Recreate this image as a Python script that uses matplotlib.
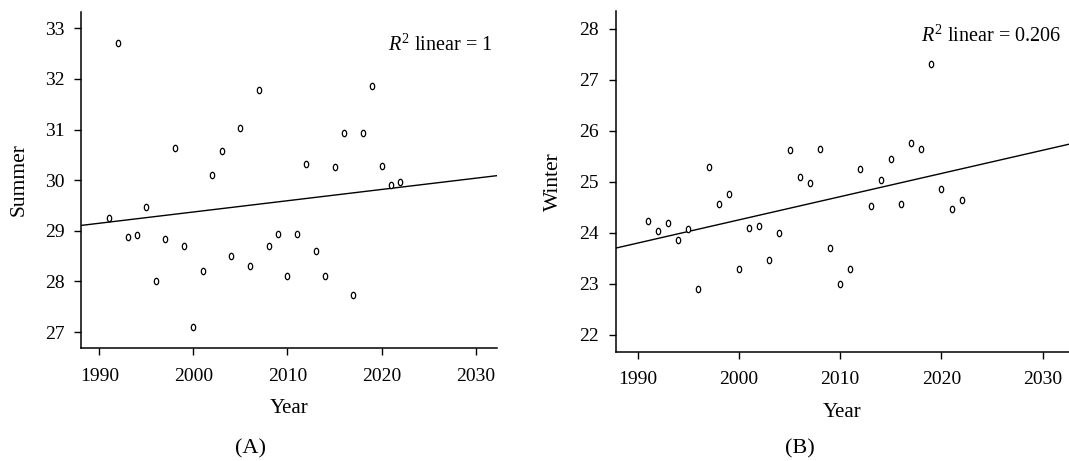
import matplotlib
matplotlib.use('Agg')
import matplotlib.pyplot as plt
from matplotlib.path import Path
from matplotlib.markers import MarkerStyle
from matplotlib.transforms import Affine2D

# values
years = [1991, 1992, 1993, 1994, 1995, 1996, 1997, 1998, 1999, 2000, 2001,
         2002, 2003, 2004, 2005, 2006, 2007, 2008, 2009, 2010, 2011, 2012,
         2013, 2014, 2015, 2016, 2017, 2018, 2019, 2020, 2021, 2022]
summer = [29.25, 32.72, 28.87, 28.91, 29.47, 28.01, 28.83, 30.63, 28.71, 27.11,
          28.20, 30.10, 30.57, 28.51, 31.03, 28.30, 31.79, 28.70, 28.94, 28.11,
          28.94, 30.33, 28.60, 28.11, 30.27, 30.94, 27.74, 30.94, 31.86, 30.29,
          29.91, 29.97]
winter = [24.23, 24.03, 24.20, 23.86, 24.07, 22.90, 25.30, 24.56, 24.76, 23.30,
          24.09, 24.13, 23.46, 24.00, 25.63, 25.09, 24.97, 25.65, 23.70, 23.00,
          23.30, 25.25, 24.52, 25.03, 25.45, 24.56, 25.76, 25.65, 27.32, 24.86,
          24.46, 24.65]

# fitted line values at 1990 and 2030
summer_fit = [29.15, 30.04]
winter_fit = [23.80, 25.62]
fit_years = [1990, 2030]

x_ticks = [1990, 2000, 2010, 2020, 2030]
summer_ticks = [27, 28, 29, 30, 31, 32, 33]
winter_ticks = [22, 23, 24, 25, 26, 27, 28]

plt.rcParams['font.family'] = ['Liberation Serif', 'DejaVu Serif']
plt.rcParams['mathtext.fontset'] = 'custom'
plt.rcParams['mathtext.rm'] = 'Liberation Serif'
plt.rcParams['mathtext.it'] = 'Liberation Serif:italic'
plt.rcParams['font.size'] = 14

# slightly tall open circle, like the "o" glyph in the original
ellipse = Path.unit_circle().transformed(Affine2D().scale(0.68, 1.0))
marker = MarkerStyle(ellipse)

fig = plt.figure(figsize=(10.69, 4.61), dpi=100)
ax1 = fig.add_axes([0.0758, 0.2445, 0.3894, 0.7302])
ax2 = fig.add_axes([0.5760, 0.2371, 0.4240, 0.7390])


def scatter_panel(ax, values, fit, ticks, ylim, xlim, ylabel, r2_text, r2_pos, ylab_x):
    ax.plot(years, values, linestyle='none', marker=marker, markersize=4.6,
            markerfacecolor='white', markeredgecolor='black', markeredgewidth=0.9,
            zorder=3)
    ax.axline((fit_years[0], fit[0]), (fit_years[1], fit[1]), color='black', lw=1.0)

    ax.set_xlim(*xlim)
    ax.set_ylim(*ylim)
    ax.set_xticks(x_ticks)
    ax.set_yticks(ticks)

    for side in ['top', 'right']:
        ax.spines[side].set_visible(False)
    for side in ['left', 'bottom']:
        ax.spines[side].set_linewidth(1.1)
    ax.tick_params(axis='both', direction='out', length=5, width=1.0, labelsize=14)
    ax.tick_params(axis='y', pad=7)
    ax.tick_params(axis='x', pad=9)

    ax.set_ylabel(ylabel, fontsize=15.5)
    ax.yaxis.set_label_coords(ylab_x, 0.5)
    ax.set_xlabel('Year', fontsize=15)
    ax.xaxis.set_label_coords(0.5, -0.15)

    ax.text(r2_pos[0], r2_pos[1], r2_text, transform=ax.transAxes,
            ha='right', va='baseline', fontsize=14.5)


scatter_panel(ax1, summer, summer_fit, summer_ticks, (26.68, 33.33), (1988.06, 2032.3),
              'Summer', r'$R^2$ linear = 1', (0.989, 0.884), -0.127)
scatter_panel(ax2, winter, winter_fit, winter_ticks, (21.67, 28.35), (1987.83, 2032.6),
              'Winter', r'$R^2$ linear = 0.206', (0.984, 0.910), -0.116)

fig.text(250 / 1069, 1 - 449 / 461, '(A)', ha='center', va='center', fontsize=16)
fig.text(800 / 1069, 1 - 449 / 461, '(B)', ha='center', va='center', fontsize=16)

fig.savefig('out.png', dpi=100)
